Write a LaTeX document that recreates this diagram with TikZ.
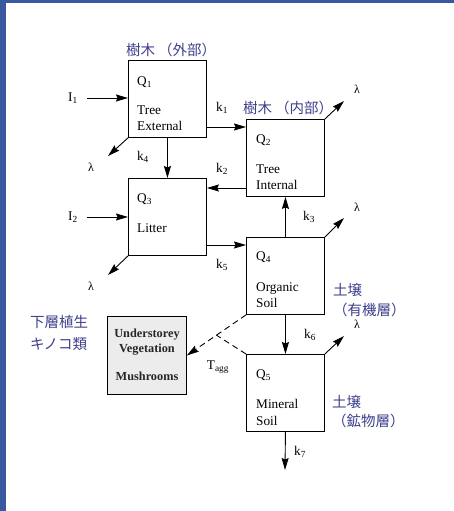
\documentclass[tikz,border=0pt]{standalone}
\usepackage{fontspec}
\setmainfont{Liberation Serif}
\newfontfamily\jp{Noto Sans CJK JP}
\usetikzlibrary{arrows.meta,calc}
\definecolor{jpblue}{RGB}{62,62,140}
\definecolor{frameblue}{RGB}{58,88,160}
\begin{document}
\begin{tikzpicture}[x=1pt,y=-1pt,
  box/.style={draw, line width=0.9pt, minimum width=78pt, minimum height=77pt, anchor=north west, inner sep=0pt},
  txt/.style={font=\fontsize{13.3}{15}\selectfont, inner sep=0pt, anchor=base west},
  lab/.style={font=\fontsize{13.3}{15}\selectfont, inner sep=0pt},
  lam/.style={font=\fontsize{12}{14}\selectfont, inner sep=0pt},
  bold/.style={font=\fontsize{12.3}{14}\selectfont\bfseries, inner sep=0pt, anchor=base, text=black!85},
  jpt/.style={font=\fontsize{14.5}{17}\jp, text=jpblue, inner sep=0pt, anchor=west},
  tip/.style={-{Stealth[length=12pt,width=7pt,inset=1.5pt]}},
  arr/.style={line width=0.9pt, tip},
  dsh/.style={line width=0.9pt, dash pattern=on 6pt off 4pt}]
\useasboundingbox (0,0) rectangle (454,511);
\fill[frameblue] (0,0) rectangle (454,3.5);
\fill[frameblue] (0,0) rectangle (6,511);

% boxes
\node[box] (q1) at (128,60) {};
\node[box] (q2) at (246,119) {};
\node[box] (q3) at (128,178) {};
\node[box] (q4) at (246,237) {};
\node[box] (q5) at (246,354) {};
\node[box, fill=gray!15, minimum width=79pt, minimum height=78pt] (gb) at (107,316) {};

% box texts
\node[txt] (q1a) at ($(q1.north west)+(9,25)$) {Q\textsubscript{1}};
\node[txt] (q1b) at ($(q1.north west)+(9,54)$) {Tree};
\node[txt] (q1c) at ($(q1.north west)+(9,70)$) {External};
\node[txt] (q2a) at ($(q2.north west)+(10,24)$) {Q\textsubscript{2}};
\node[txt] (q2b) at ($(q2.north west)+(10,54)$) {Tree};
\node[txt] (q2c) at ($(q2.north west)+(10,70)$) {Internal};
\node[txt] (q3a) at ($(q3.north west)+(9,24)$) {Q\textsubscript{3}};
\node[txt] (q3b) at ($(q3.north west)+(9,54)$) {Litter};
\node[txt] (q4a) at ($(q4.north west)+(10,23)$) {Q\textsubscript{4}};
\node[txt] (q4b) at ($(q4.north west)+(10,54)$) {Organic};
\node[txt] (q4c) at ($(q4.north west)+(10,70)$) {Soil};
\node[txt] (q5a) at ($(q5.north west)+(10,24)$) {Q\textsubscript{5}};
\node[txt] (q5b) at ($(q5.north west)+(10,54)$) {Mineral};
\node[txt] (q5c) at ($(q5.north west)+(10,71)$) {Soil};
\node[bold] (gb1) at (147,337) {Understorey};
\node[bold] (gb2) at (147,352) {Vegetation};
\node[bold] (gb3) at (147,380) {Mushrooms};

% inputs
\node[lab] (i1) at (73,98) {I\textsubscript{1}};
\node[lab] (i2) at (73,217) {I\textsubscript{2}};
\coordinate (i1s) at (87,98);
\coordinate (i2s) at (87,217);
\draw[arr] (i1s) -- (q1.west |- i1s);
\draw[arr] (i2s) -- (q3.west |- i2s);

% flows
\coordinate (y1) at (0,127);
\coordinate (y2) at (0,188);
\coordinate (y5) at (0,245);
\draw[arr] (q1.east |- y1) -- (q2.west |- y1);
\draw[arr] (q1.south) -- (q3.north);
\draw[arr] (q2.west |- y2) -- (q3.east |- y2);
\draw[arr] (q4.north) -- (q2.south);
\draw[arr] (q3.east |- y5) -- (q4.west |- y5);
\draw[arr] (q4.south) -- (q5.north);
\coordinate (out7) at (285,470);
\draw[arr] (q5.south) -- (out7);

\node[lab] (k1) at (222,108) {k\textsubscript{1}};
\node[lab] (k2) at (222,169) {k\textsubscript{2}};
\node[lab] (k3) at (309,217) {k\textsubscript{3}};
\node[lab] (k4) at (143,157) {k\textsubscript{4}};
\node[lab] (k5) at (222,265) {k\textsubscript{5}};
\node[lab] (k6) at (310,335) {k\textsubscript{6}};
\node[lab] (k7) at (300,452) {k\textsubscript{7}};

% losses
\coordinate (l1) at (108,156);
\coordinate (l2) at (344,101);
\coordinate (l3) at (108,275);
\coordinate (l4) at (344,218);
\coordinate (l5) at (344,336);
\draw[arr] (q1.south west) -- (l1);
\draw[arr] (q2.north east) -- (l2);
\draw[arr] (q3.south west) -- (l3);
\draw[arr] (q4.north east) -- (l4);
\draw[arr] (q5.north east) -- (l5);
\node[lam] (lam1) at (91,167) {λ};
\node[lam] (lam2) at (357,89) {λ};
\node[lam] (lam3) at (91,286) {λ};
\node[lam] (lam4) at (357,207) {λ};
\node[lam] (lam5) at (357,324) {λ};

% dashed
\draw[dsh, tip] (q4.south west) -- (gb.east);
\coordinate (jn) at ($(q4.south west)!0.5!(gb.east)$);
\draw[dsh] (q5.north west) -- (jn);
\node[lab] (tagg) at (218,367) {T\textsubscript{agg}};

% Japanese labels
\node[jpt] (j1) at (126,50) {樹木\hspace{3pt}（外部）};
\node[jpt] (j2) at (243,108) {樹木\hspace{3pt}（内部）};
\node[jpt] (j3) at (333,290) {土壌};
\node[jpt] (j4) at (333,310) {（有機層）};
\node[jpt] (j5) at (30,322) {下層植生};
\node[jpt] (j6) at (30,344) {キノコ類};
\node[jpt] (j7) at (332,402) {土壌};
\node[jpt] (j8) at (332,421) {（鉱物層）};
\end{tikzpicture}
\end{document}
